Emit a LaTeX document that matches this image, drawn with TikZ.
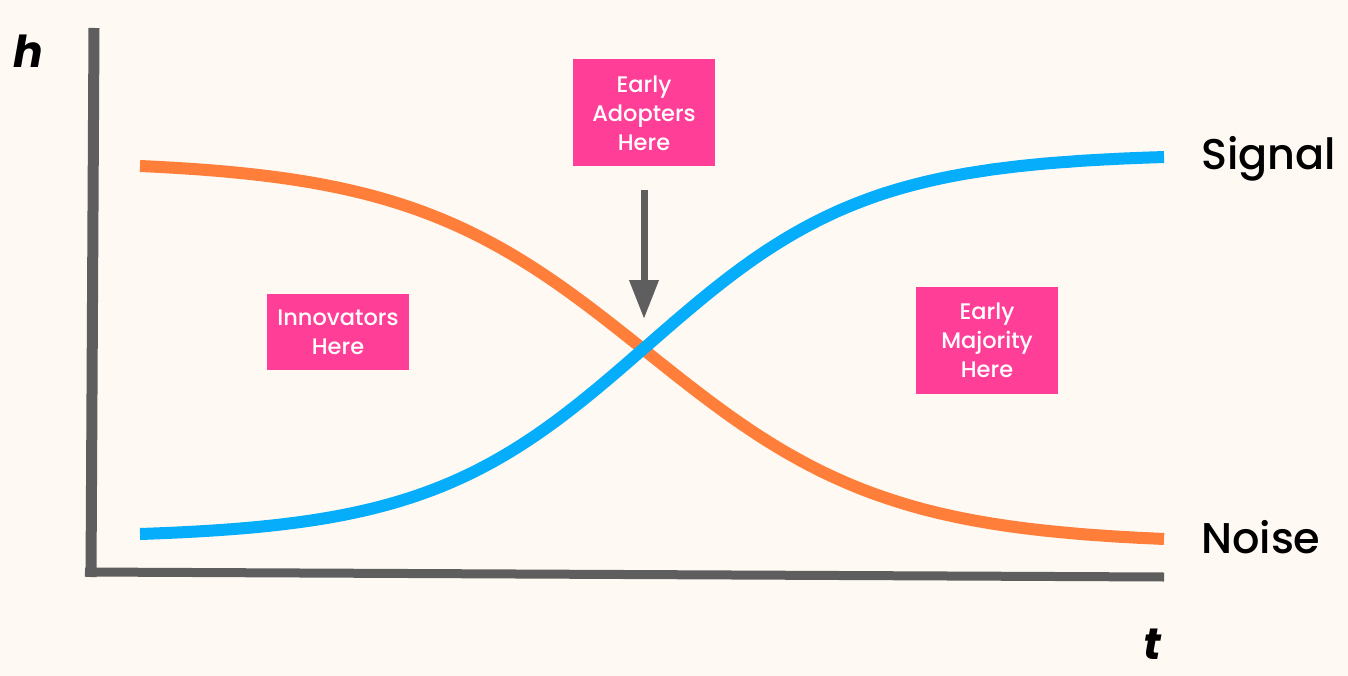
\documentclass[tikz,border=0pt]{standalone}
\usepackage{fontspec}
\setmainfont{Poppins}
\IfFontExistsTF{Poppins Medium}{\newfontfamily\medfont{Poppins Medium}}{\newfontfamily\medfont{Poppins}}
\usetikzlibrary{arrows.meta}
\definecolor{bg}{HTML}{FEF9F2}
\definecolor{axisgray}{HTML}{5E5E5E}
\definecolor{sigblue}{HTML}{05ADFB}
\definecolor{noiseorange}{HTML}{FF7F3A}
\definecolor{boxpink}{HTML}{FF3E98}
\begin{document}
\begin{tikzpicture}[x=1pt,y=-1pt,
  declare function={sg(\x,\w)=1/(1+exp(-(\x-647)/\w));
                    nm(\x,\w)=(sg(\x,\w)-sg(140,\w))/(sg(1164,\w)-sg(140,\w));},
  axisline/.style={draw=axisgray,line width=11pt},
  curveline/.style={line width=12pt},
  pinkbox/.style={fill=boxpink,text=white,minimum width=142pt,align=center,
    font=\medfont\fontsize{22.5}{29}\selectfont,inner sep=0pt},
  biglabel/.style={font=\medfont\fontsize{43}{48}\selectfont,anchor=base west,inner sep=0pt},
  axislabel/.style={font=\fontsize{44}{48}\selectfont\bfseries\itshape,anchor=base west,inner sep=0pt}]
\fill[bg] (0,0) rectangle (1348,676);
\useasboundingbox (0,0) rectangle (1348,676);
% axes
\coordinate (ytop) at (94,28);
\coordinate (orig) at (91,572);
\coordinate (xend) at (1164,577);
\draw[axisline] (ytop) -- (91,577);
\draw[draw=axisgray,line width=9pt] (85,572) -- (xend);
% curves
\draw[curveline,noiseorange] plot[domain=140:1164,samples=120] (\x,{166+373*nm(\x,120)});
\draw[curveline,sigblue] plot[domain=140:1164,samples=120] (\x,{534-377*nm(\x,110)});
% boxes
\node[pinkbox,minimum height=107pt] (ea) at (644,113) {Early\\Adopters\\Here};
\node[pinkbox,minimum height=76pt] (inn) at (338,332) {Innovators\\Here};
\node[pinkbox,minimum height=107pt] (em) at (987,340) {Early\\Majority\\Here};
% arrow
\coordinate (astart) at (644,190);
\coordinate (atip) at (644,319);
\draw[draw=axisgray,line width=7pt,-{Triangle[width=28pt,length=39pt]}] (astart) -- (atip);
% labels
\node[biglabel] (sig) at (1201,170) {Signal};
\node[biglabel] (noi) at (1201,553) {Noise};
\node[axislabel] (hl) at (13,68) {h};
\node[axislabel] (tl) at (1143,659) {t};
\end{tikzpicture}
\end{document}
